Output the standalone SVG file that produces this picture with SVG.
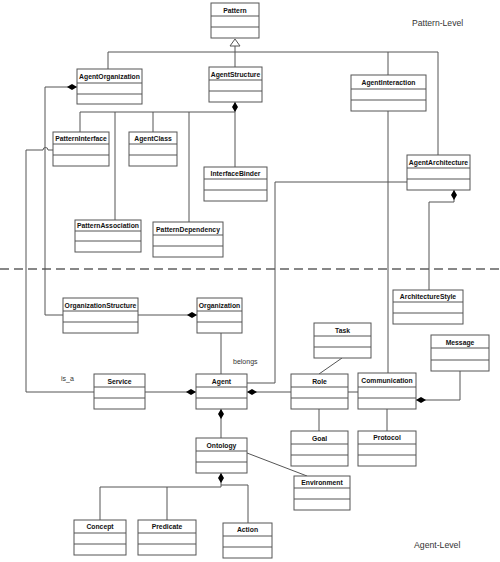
<svg xmlns="http://www.w3.org/2000/svg" width="500" height="562" viewBox="0 0 500 562">
<style>
.b rect{fill:#fff;stroke:#555;stroke-width:1}
.b line{stroke:#555;stroke-width:1}
.b text{font-family:"Liberation Sans",Arial,sans-serif;font-size:6.8px;font-weight:bold;fill:#111;text-anchor:middle}
.c path,.c line,.c polyline{fill:none;stroke:#555;stroke-width:1}
.lbl{font-family:"Liberation Sans",Arial,sans-serif;fill:#333}
</style>
<defs>
<marker id="dia" viewBox="0 0 10 6" refX="0" refY="3" markerWidth="10" markerHeight="6" markerUnits="userSpaceOnUse" orient="auto">
<path d="M0,3 L5,0 L10,3 L5,6 Z" fill="#000"/>
</marker>
</defs>
<rect width="500" height="562" fill="#fff"/>
<line x1="0" y1="269" x2="500" y2="269" stroke="#111" stroke-width="1.2" stroke-dasharray="9,5"/>
<text class="lbl" x="412" y="26" font-size="8.6">Pattern-Level</text>
<text class="lbl" x="414" y="548" font-size="8.7">Agent-Level</text>
<g class="c" id="connectors">
<polyline points="235,46 235,67"/>
<polyline points="108,69 108,52 438,52 438,155"/>
<polyline points="388,52 388,75"/>
<polygon points="235,39 230,46 240,46" fill="#fff" stroke="#555" stroke-width="1"/>
<path d="M235,102 L235,167" marker-start="url(#dia)"/>
<polyline points="80,132 80,112 235,112"/>
<polyline points="115,112 115,220"/>
<polyline points="153,112 153,132"/>
<polyline points="189,112 189,222"/>
<path d="M77,87 L45,87 L45,315 L63,315" marker-start="url(#dia)" stroke="#333"/>
<path d="M53,150 L48,150 A2.5,2.5 0 0 0 43,150 L26,150 L26,392 L94,392"/>
<path d="M197,315 L138,315" marker-start="url(#dia)"/>
<line x1="221" y1="333" x2="221" y2="374"/>
<path d="M196,392 L145,392" marker-start="url(#dia)"/>
<polyline points="407,182 275,182 275,383 247,383" stroke="#333"/>
<path d="M454,190 L454,202 L429,202 L429,290" marker-start="url(#dia)"/>
<line x1="388" y1="111" x2="388" y2="373"/>
<path d="M247,392 L291,392" marker-start="url(#dia)"/>
<line x1="348" y1="392" x2="358" y2="392"/>
<line x1="342" y1="358" x2="319" y2="374"/>
<line x1="319" y1="409" x2="319" y2="431"/>
<line x1="387" y1="409" x2="387" y2="431"/>
<path d="M416,400 L460,400 L460,371" marker-start="url(#dia)"/>
<path d="M221,409 L221,438" marker-start="url(#dia)"/>
<path d="M221,473 L221,487 L100,487 L100,520" marker-start="url(#dia)"/>
<line x1="167" y1="487" x2="167" y2="520"/>
<polyline points="221,485 248,485 248,523"/>
<line x1="247" y1="453" x2="307" y2="476"/>
</g>
<text class="lbl" x="61" y="381" font-size="7">is_a</text>
<text class="lbl" x="233" y="364" font-size="7">belongs</text>
<g class="b" id="Pattern"><rect x="211" y="3" width="48" height="35"/><line x1="211" y1="16" x2="259" y2="16"/><line x1="211" y1="27" x2="259" y2="27"/><text x="235" y="13">Pattern</text></g>
<g class="b" id="AgentOrganization"><rect x="77" y="69" width="65" height="35"/><line x1="77" y1="83" x2="142" y2="83"/><line x1="77" y1="94" x2="142" y2="94"/><text x="109.5" y="79">AgentOrganization</text></g>
<g class="b" id="AgentStructure"><rect x="209" y="67" width="53" height="35"/><line x1="209" y1="80" x2="262" y2="80"/><line x1="209" y1="91" x2="262" y2="91"/><text x="235.5" y="77">AgentStructure</text></g>
<g class="b" id="AgentInteraction"><rect x="351" y="75" width="75" height="36"/><line x1="351" y1="89" x2="426" y2="89"/><line x1="351" y1="100" x2="426" y2="100"/><text x="388.5" y="85">AgentInteraction</text></g>
<g class="b" id="PatternInterface"><rect x="53" y="132" width="56" height="34"/><line x1="53" y1="144" x2="109" y2="144"/><line x1="53" y1="155" x2="109" y2="155"/><text x="81" y="141">PatternInterface</text></g>
<g class="b" id="AgentClass"><rect x="129" y="132" width="48" height="34"/><line x1="129" y1="144" x2="177" y2="144"/><line x1="129" y1="155" x2="177" y2="155"/><text x="153" y="141">AgentClass</text></g>
<g class="b" id="InterfaceBinder"><rect x="204" y="167" width="63" height="34"/><line x1="204" y1="179" x2="267" y2="179"/><line x1="204" y1="190" x2="267" y2="190"/><text x="235.5" y="176">InterfaceBinder</text></g>
<g class="b" id="PatternAssociation"><rect x="75" y="220" width="66" height="32"/><line x1="75" y1="231" x2="141" y2="231"/><line x1="75" y1="241" x2="141" y2="241"/><text x="108" y="228">PatternAssociation</text></g>
<g class="b" id="PatternDependency"><rect x="153" y="222" width="70" height="35"/><line x1="153" y1="235" x2="223" y2="235"/><line x1="153" y1="246" x2="223" y2="246"/><text x="188" y="232">PatternDependency</text></g>
<g class="b" id="AgentArchitecture"><rect x="407" y="155" width="63" height="35"/><line x1="407" y1="168" x2="470" y2="168"/><line x1="407" y1="179" x2="470" y2="179"/><text x="438.5" y="165">AgentArchitecture</text></g>
<g class="b" id="ArchitectureStyle"><rect x="393" y="290" width="70" height="34"/><line x1="393" y1="302" x2="463" y2="302"/><line x1="393" y1="313" x2="463" y2="313"/><text x="428" y="299">ArchitectureStyle</text></g>
<g class="b" id="OrganizationStructure"><rect x="63" y="298" width="75" height="35"/><line x1="63" y1="311" x2="138" y2="311"/><line x1="63" y1="322" x2="138" y2="322"/><text x="100.5" y="308">OrganizationStructure</text></g>
<g class="b" id="Organization"><rect x="197" y="298" width="45" height="35"/><line x1="197" y1="311" x2="242" y2="311"/><line x1="197" y1="322" x2="242" y2="322"/><text x="219.5" y="308">Organization</text></g>
<g class="b" id="Task"><rect x="314" y="323" width="57" height="35"/><line x1="314" y1="336" x2="371" y2="336"/><line x1="314" y1="347" x2="371" y2="347"/><text x="342.5" y="333">Task</text></g>
<g class="b" id="Message"><rect x="431" y="335" width="58" height="36"/><line x1="431" y1="348" x2="489" y2="348"/><line x1="431" y1="360" x2="489" y2="360"/><text x="460" y="345">Message</text></g>
<g class="b" id="Service"><rect x="94" y="374" width="51" height="35"/><line x1="94" y1="387" x2="145" y2="387"/><line x1="94" y1="398" x2="145" y2="398"/><text x="119.5" y="384">Service</text></g>
<g class="b" id="Agent"><rect x="196" y="374" width="51" height="35"/><line x1="196" y1="387" x2="247" y2="387"/><line x1="196" y1="398" x2="247" y2="398"/><text x="221.5" y="384">Agent</text></g>
<g class="b" id="Role"><rect x="291" y="374" width="57" height="35"/><line x1="291" y1="387" x2="348" y2="387"/><line x1="291" y1="398" x2="348" y2="398"/><text x="319.5" y="384">Role</text></g>
<g class="b" id="Communication"><rect x="358" y="373" width="58" height="36"/><line x1="358" y1="387" x2="416" y2="387"/><line x1="358" y1="398" x2="416" y2="398"/><text x="387" y="383">Communication</text></g>
<g class="b" id="Goal"><rect x="291" y="431" width="57" height="35"/><line x1="291" y1="444" x2="348" y2="444"/><line x1="291" y1="455" x2="348" y2="455"/><text x="319.5" y="441">Goal</text></g>
<g class="b" id="Protocol"><rect x="358" y="431" width="58" height="35"/><line x1="358" y1="444" x2="416" y2="444"/><line x1="358" y1="455" x2="416" y2="455"/><text x="387" y="440">Protocol</text></g>
<g class="b" id="Ontology"><rect x="196" y="438" width="51" height="35"/><line x1="196" y1="451" x2="247" y2="451"/><line x1="196" y1="462" x2="247" y2="462"/><text x="221.5" y="448">Ontology</text></g>
<g class="b" id="Environment"><rect x="294" y="476" width="56" height="34"/><line x1="294" y1="488" x2="350" y2="488"/><line x1="294" y1="499" x2="350" y2="499"/><text x="322" y="485">Environment</text></g>
<g class="b" id="Concept"><rect x="74" y="520" width="52" height="35"/><line x1="74" y1="533" x2="126" y2="533"/><line x1="74" y1="544" x2="126" y2="544"/><text x="100" y="529">Concept</text></g>
<g class="b" id="Predicate"><rect x="138" y="520" width="58" height="35"/><line x1="138" y1="533" x2="196" y2="533"/><line x1="138" y1="544" x2="196" y2="544"/><text x="167" y="529">Predicate</text></g>
<g class="b" id="Action"><rect x="223" y="523" width="49" height="35"/><line x1="223" y1="536" x2="272" y2="536"/><line x1="223" y1="547" x2="272" y2="547"/><text x="247.5" y="532">Action</text></g>
</svg>
